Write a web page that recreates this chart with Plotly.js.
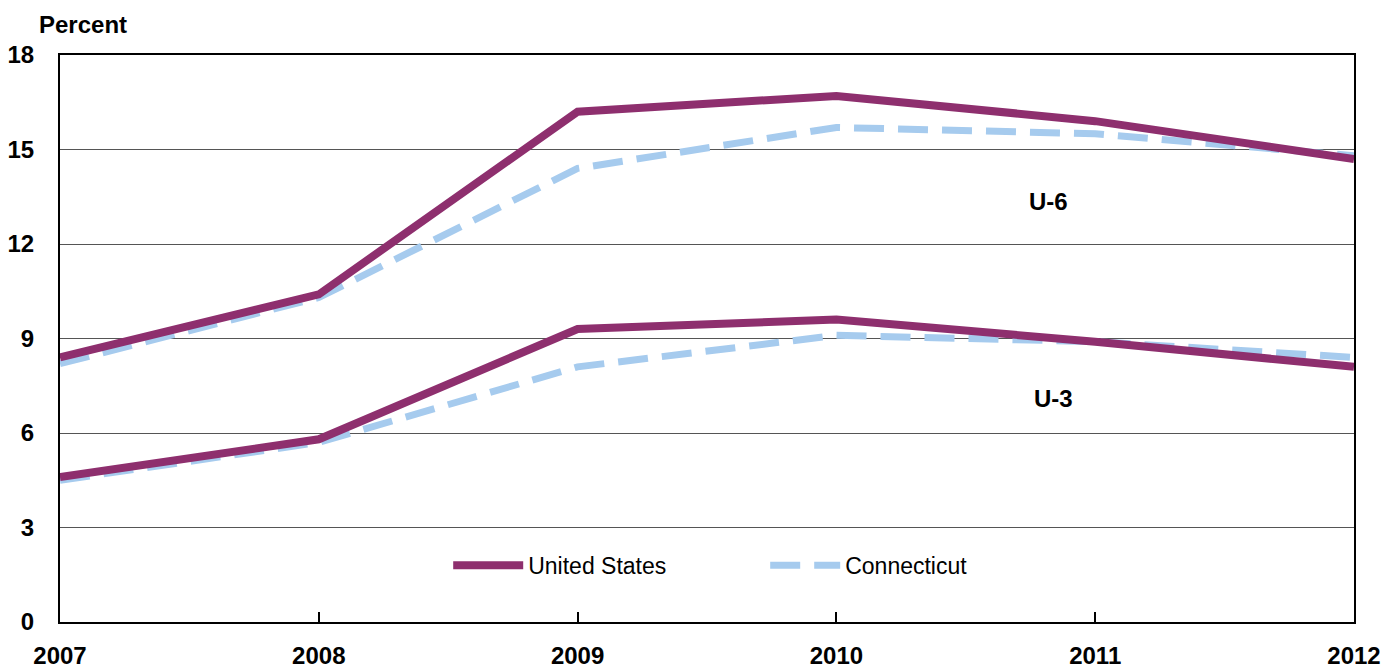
<!DOCTYPE html>
<html>
<head>
<meta charset="utf-8">
<script src="https://cdn.plot.ly/plotly-3.0.1.min.js"></script>
<style>html,body{margin:0;padding:0;background:#fff;}#chart{width:1383px;height:669px;}</style>
</head>
<body>
<div id="chart"></div>
<script>
const years = [2007, 2008, 2009, 2010, 2011, 2012];
const usU6 = [8.4, 10.4, 16.2, 16.7, 15.9, 14.7];
const ctU6 = [8.2, 10.3, 14.4, 15.7, 15.5, 14.8];
const usU3 = [4.6, 5.8, 9.3, 9.6, 8.9, 8.1];
const ctU3 = [4.5, 5.7, 8.1, 9.1, 8.9, 8.4];
const yTicks = [0, 3, 6, 9, 12, 15, 18];

const usColor = '#8E2F6E';
const ctColor = '#A6CBEE';
const fontFam = 'Liberation Sans, Arial, sans-serif';

const traces = [
  {x: years, y: ctU6, mode: 'lines', name: 'Connecticut', legendgroup: 'ct', showlegend: false,
   line: {color: ctColor, width: 7, dash: '30px,14px'}},
  {x: years, y: usU6, mode: 'lines', name: 'United States', legendgroup: 'us', showlegend: true,
   line: {color: usColor, width: 8}},
  {x: years, y: ctU3, mode: 'lines', name: 'Connecticut', legendgroup: 'ct', showlegend: true,
   line: {color: ctColor, width: 7, dash: '30px,14px'}},
  {x: years, y: usU3, mode: 'lines', name: 'United States', legendgroup: 'us', showlegend: false,
   line: {color: usColor, width: 8}}
];

const layout = {
  width: 1383, height: 669,
  margin: {l: 60, r: 29, t: 55, b: 47},
  paper_bgcolor: '#fff', plot_bgcolor: '#fff',
  font: {family: fontFam, size: 23, color: '#000'},
  showlegend: true,
  legend: {orientation: 'h', x: 0.3, y: 0.1, xanchor: 'left', yanchor: 'middle',
           bgcolor: 'rgba(0,0,0,0)',
           font: {family: fontFam, size: 23, color: '#000'}, itemwidth: 70, entrywidth: 232},
  xaxis: {range: [2007, 2012], tickvals: years, ticktext: years.map(String),
          showgrid: false, zeroline: false, showline: true, linecolor: '#000', linewidth: 2, mirror: true,
          ticks: 'inside', ticklen: 10, tickcolor: '#000', tickwidth: 2,
          tickfont: {family: fontFam, size: 24, color: '#000', weight: 'bold'}, ticklabelstandoff: 11},
  yaxis: {range: [0, 18], tickvals: yTicks, ticktext: yTicks.map(String),
          showgrid: true, gridcolor: '#555', gridwidth: 1, zeroline: false,
          showline: true, linecolor: '#000', linewidth: 2, mirror: true, ticks: '',
          tickfont: {family: fontFam, size: 24, color: '#000', weight: 'bold'}, ticklabelstandoff: 19},
  annotations: [
    {xref: 'paper', yref: 'paper', x: -0.018, y: 1.053, xanchor: 'left', yanchor: 'middle',
     text: '<b>Percent</b>', showarrow: false, font: {family: fontFam, size: 24, color: '#000'}},
    {x: 2010.82, y: 13.35, text: '<b>U-6</b>', showarrow: false, font: {family: fontFam, size: 24, color: '#000'}},
    {x: 2010.84, y: 7.1, text: '<b>U-3</b>', showarrow: false, font: {family: fontFam, size: 24, color: '#000'}}
  ]
};

Plotly.newPlot('chart', traces, layout, {displayModeBar: false, staticPlot: true});
</script>
</body>
</html>
